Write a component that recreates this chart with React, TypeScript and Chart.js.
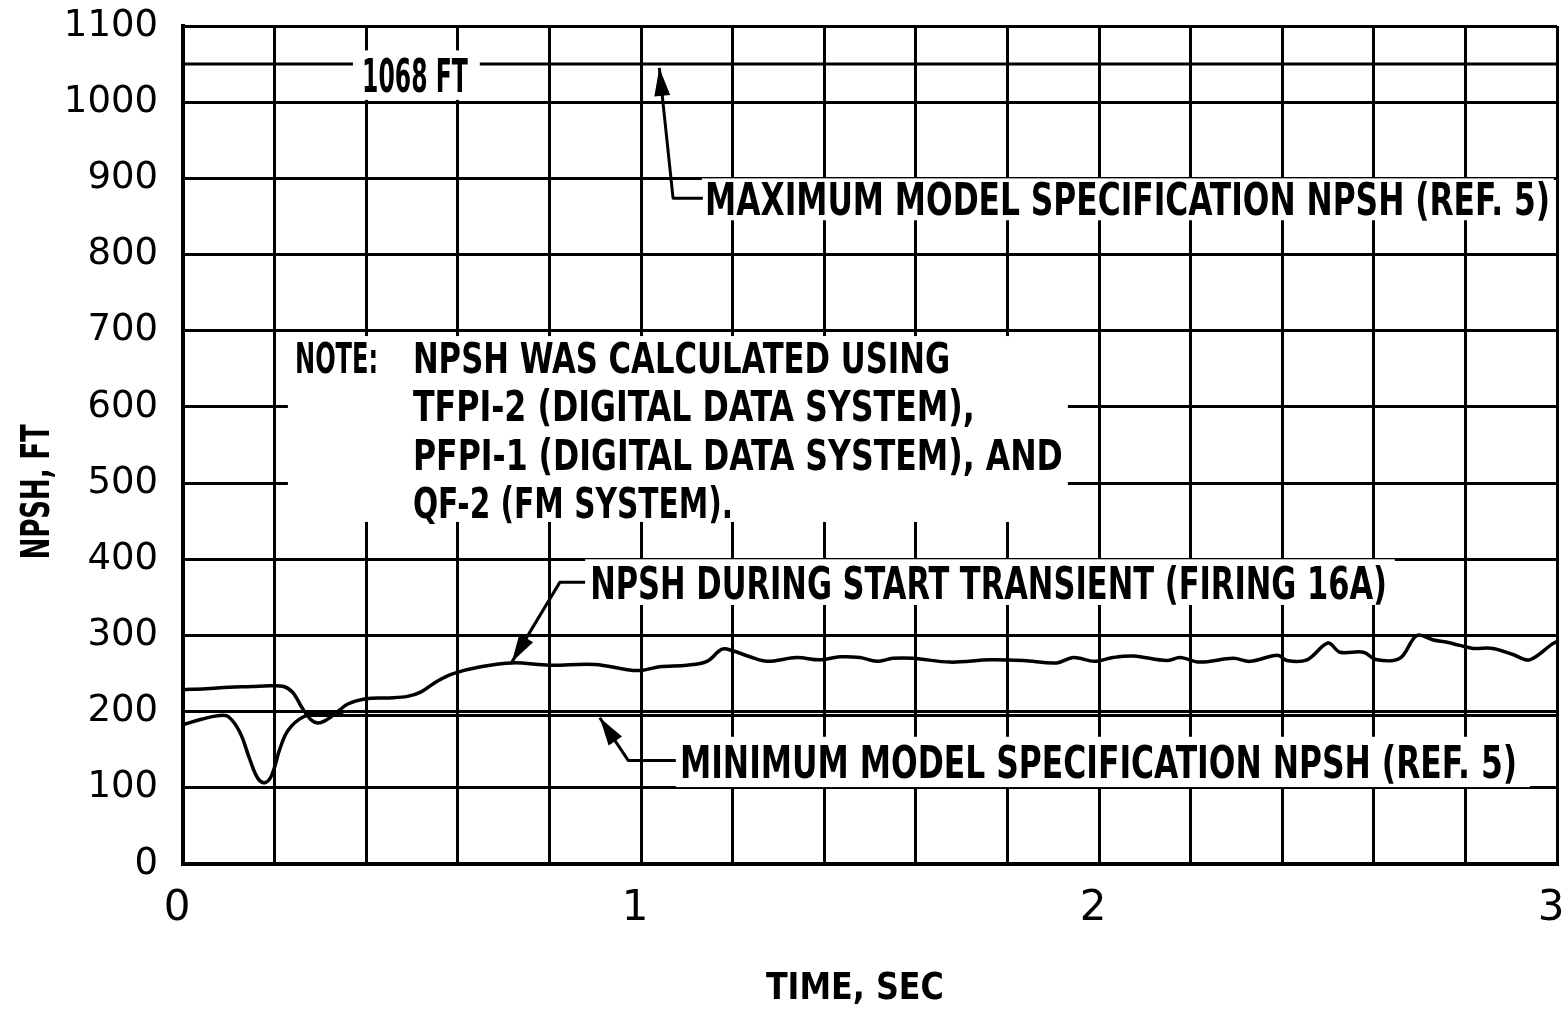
import React, { useEffect, useRef } from "react";
import { Chart, registerables } from "chart.js";

Chart.register(...registerables);

// ---------- data ----------
const transientTime = [
  0.0, 0.05, 0.1, 0.15, 0.19, 0.22, 0.24, 0.26, 0.28, 0.295, 0.31, 0.33, 0.36, 0.4, 0.45, 0.49,
  0.52, 0.555, 0.59, 0.65, 0.72, 0.8, 0.9, 0.97, 1.0, 1.04, 1.1, 1.144, 1.177, 1.2, 1.238,
  1.275, 1.34, 1.39, 1.435, 1.478, 1.515, 1.55, 1.594, 1.675, 1.762, 1.835, 1.908, 1.944,
  1.99, 2.03, 2.075, 2.148, 2.177, 2.22, 2.293, 2.33, 2.39, 2.41, 2.454, 2.5, 2.526, 2.577,
  2.607, 2.657, 2.694, 2.73, 2.76, 2.788, 2.817, 2.86, 2.904, 2.94, 2.99, 3.0,
];
const transientNpsh = [
  229, 230, 232, 233, 234, 233, 225, 205, 189, 185, 188, 196, 210, 217, 218, 220,
  226, 240, 250, 259, 264, 261, 262, 255, 254, 259, 261, 266, 282, 280, 272,
  266, 271, 268, 272, 271, 266, 270, 270, 265, 268, 267, 264, 271,
  266, 271, 273, 267, 271, 265, 270, 266, 274, 267, 268, 290, 278, 278,
  268, 270, 300, 294, 291, 287, 283, 283, 275, 268, 289, 292,
];
const dipTime = [0.0, 0.04, 0.08, 0.1, 0.125, 0.146, 0.164, 0.18, 0.194, 0.212, 0.23, 0.262, 0.3, 0.35];
const dipNpsh = [183, 190, 195, 193, 172, 137, 112, 107, 117, 152, 176, 193, 198, 197];

const maxSpecTime = [0, 3];
const maxSpecNpsh = [1050, 1050];
const minSpecTime = [0.27, 3];
const minSpecNpsh = [195, 195];

const xMin = 0;
const xMax = 3;
const xGridStep = 0.2;
const yMin = 0;
const yMax = 1100;
const yStep = 100;

const xAxisTitle = "TIME, SEC";
const yAxisTitle = "NPSH, FT";

const maxSpecLabel = "MAXIMUM MODEL SPECIFICATION NPSH (REF. 5)";
const minSpecLabel = "MINIMUM MODEL SPECIFICATION NPSH (REF. 5)";
const transientLabel = "NPSH DURING START TRANSIENT (FIRING 16A)";
const maxValueLabel = "1068 FT";
const noteHead = "NOTE:";
const noteLines = [
  "NPSH WAS CALCULATED USING",
  "TFPI-2 (DIGITAL DATA SYSTEM),",
  "PFPI-1 (DIGITAL DATA SYSTEM), AND",
  "QF-2 (FM SYSTEM).",
];

// ---------- annotation layout (data units) ----------
const FONT = "'Liberation Sans Narrow', 'DejaVu Sans Condensed', 'DejaVu Sans', sans-serif";

const whiteBoxes = [
  { x0: 1.133, x1: 2.993, y0: 845, y1: 900 },
  { x0: 0.371, x1: 0.648, y0: 1003, y1: 1068 },
  { x0: 0.229, x1: 1.932, y0: 449, y1: 693 },
  { x0: 0.878, x1: 2.646, y0: 340, y1: 400 },
  { x0: 1.076, x1: 2.941, y0: 101, y1: 167 },
];

const leaders: number[][][] = [
  [[1.04, 1045], [1.07, 874], [1.135, 874]],
  [[0.718, 265], [0.823, 370], [0.878, 370]],
  [[0.91, 192], [0.972, 136], [1.076, 136]],
];

const fittedLabels = [
  { text: maxSpecLabel, x0: 1.14, x1: 2.985, y: 873, size: 45 },
  { text: transientLabel, x0: 0.889, x1: 2.629, y: 369, size: 44 },
  { text: minSpecLabel, x0: 1.085, x1: 2.913, y: 134, size: 45 },
  { text: maxValueLabel, x0: 0.391, x1: 0.622, y: 1035, size: 46 },
  { text: noteHead, x0: 0.2445, x1: 0.426, y: 665, size: 42 },
  { text: noteLines[0], x0: 0.502, x1: 1.675, y: 665, size: 42 },
  { text: noteLines[1], x0: 0.502, x1: 1.729, y: 602, size: 42 },
  { text: noteLines[2], x0: 0.502, x1: 1.921, y: 537, size: 42 },
  { text: noteLines[3], x0: 0.502, x1: 1.201, y: 474, size: 42 },
];

function pairs(xs: number[], ys: number[]) {
  return xs.map((x, i) => ({ x, y: ys[i] }));
}

function drawFitted(ctx: CanvasRenderingContext2D, text: string, left: number, right: number, cy: number, size: number) {
  ctx.font = `bold ${size}px ${FONT}`;
  const w = ctx.measureText(text).width;
  const sx = (right - left) / w;
  ctx.save();
  ctx.translate(left, cy + size * 0.36);
  ctx.scale(sx, 1);
  ctx.textAlign = "left";
  ctx.textBaseline = "alphabetic";
  ctx.fillText(text, 0, 0);
  ctx.restore();
}

const annotationPlugin = {
  id: "npshAnnotations",
  afterDatasetsDraw(chart: any) {
    const ctx: CanvasRenderingContext2D = chart.ctx;
    const xs = chart.scales.x;
    const ys = chart.scales.y;
    const px = (v: number) => xs.getPixelForValue(v);
    const py = (v: number) => ys.getPixelForValue(v);
    const area = chart.chartArea;
    ctx.save();
    ctx.fillStyle = "#fff";
    whiteBoxes.forEach((b) => {
      ctx.fillRect(px(b.x0), py(b.y1), px(b.x1) - px(b.x0), py(b.y0) - py(b.y1));
    });
    ctx.strokeStyle = "#000";
    ctx.fillStyle = "#000";
    ctx.lineWidth = 3;
    ctx.lineJoin = "round";
    ctx.lineCap = "butt";
    leaders.forEach((pts) => {
      ctx.beginPath();
      pts.forEach(([a, b], i) => {
        if (i === 0) ctx.moveTo(px(a), py(b));
        else ctx.lineTo(px(a), py(b));
      });
      ctx.stroke();
      const tx = px(pts[0][0]);
      const ty = py(pts[0][1]);
      const sx = px(pts[1][0]);
      const sy = py(pts[1][1]);
      const ang = Math.atan2(ty - sy, tx - sx);
      const L = 28;
      const W = 8;
      const bx = tx - L * Math.cos(ang);
      const by = ty - L * Math.sin(ang);
      ctx.beginPath();
      ctx.moveTo(tx, ty);
      ctx.lineTo(bx + W * Math.sin(ang), by - W * Math.cos(ang));
      ctx.lineTo(bx - W * Math.sin(ang), by + W * Math.cos(ang));
      ctx.closePath();
      ctx.fill();
    });
    fittedLabels.forEach((l) => drawFitted(ctx, l.text, px(l.x0), px(l.x1), py(l.y), l.size));

    // axis titles
    const xtCenter = px(1.467);
    drawFitted(ctx, xAxisTitle, xtCenter - 89, xtCenter + 89, area.bottom + 121, 38);
    ctx.save();
    ctx.translate(area.left - 148, py(488));
    ctx.rotate(-Math.PI / 2);
    drawFitted(ctx, yAxisTitle, -67, 68, 0, 39);
    ctx.restore();
    ctx.restore();
  },
};

function zeroPadding(s: any) {
  s.paddingTop = 0;
  s.paddingBottom = 0;
  s.paddingLeft = 0;
  s.paddingRight = 0;
}

export default function App() {
  const ref = useRef<HTMLCanvasElement | null>(null);

  useEffect(() => {
    if (!ref.current) return;
    const lineStyle = {
      borderColor: "#000",
      borderWidth: 3.5,
      pointRadius: 0,
      fill: false,
      showLine: true,
    };
    const chart = new Chart(ref.current, {
      type: "line",
      data: {
        datasets: [
          { ...lineStyle, label: "NPSH during start transient", data: pairs(transientTime, transientNpsh), tension: 0.35 },
          { ...lineStyle, label: "Start dip", data: pairs(dipTime, dipNpsh), tension: 0.4 },
          { ...lineStyle, borderWidth: 3, label: "Maximum spec", data: pairs(maxSpecTime, maxSpecNpsh), tension: 0 },
          { ...lineStyle, borderWidth: 3, label: "Minimum spec", data: pairs(minSpecTime, minSpecNpsh), tension: 0 },
        ],
      },
      options: {
        responsive: false,
        animation: false,
        devicePixelRatio: 1,
        layout: { padding: { left: 0, right: 7, top: 26, bottom: 0 } },
        plugins: { legend: { display: false }, tooltip: { enabled: false } },
        scales: {
          x: {
            type: "linear",
            min: xMin,
            max: xMax,
            afterFit: (s: any) => {
              s.height = 147;
              zeroPadding(s);
            },
            ticks: {
              stepSize: xGridStep,
              autoSkip: false,
              maxRotation: 0,
              color: "#000",
              padding: 20,
              labelOffset: -6,
              font: { family: "'DejaVu Sans', sans-serif", size: 42 },
              callback: (v: any) => {
                const n = Number(v);
                return Math.abs(n - Math.round(n)) < 1e-6 ? String(Math.round(n)) : "";
              },
            },
            grid: { color: "#000", lineWidth: 3, drawTicks: false },
            border: { color: "#000", width: 4 },
          },
          y: {
            type: "linear",
            min: yMin,
            max: yMax,
            afterFit: (s: any) => {
              s.width = 183;
              zeroPadding(s);
            },
            ticks: {
              stepSize: yStep,
              color: "#000",
              padding: 25,
              font: { family: "'DejaVu Sans', sans-serif", size: 37 },
              callback: (v: any) => String(Math.round(Number(v))),
            },
            grid: { color: "#000", lineWidth: 3, drawTicks: false },
            border: { color: "#000", width: 4 },
          },
        },
      },
      plugins: [annotationPlugin],
    } as any);
    return () => chart.destroy();
  }, []);

  return (
    <div style={{ position: "absolute", left: 0, top: 0, width: 1564, height: 1011, background: "#fff" }}>
      <canvas ref={ref} width={1564} height={1011} />
    </div>
  );
}
